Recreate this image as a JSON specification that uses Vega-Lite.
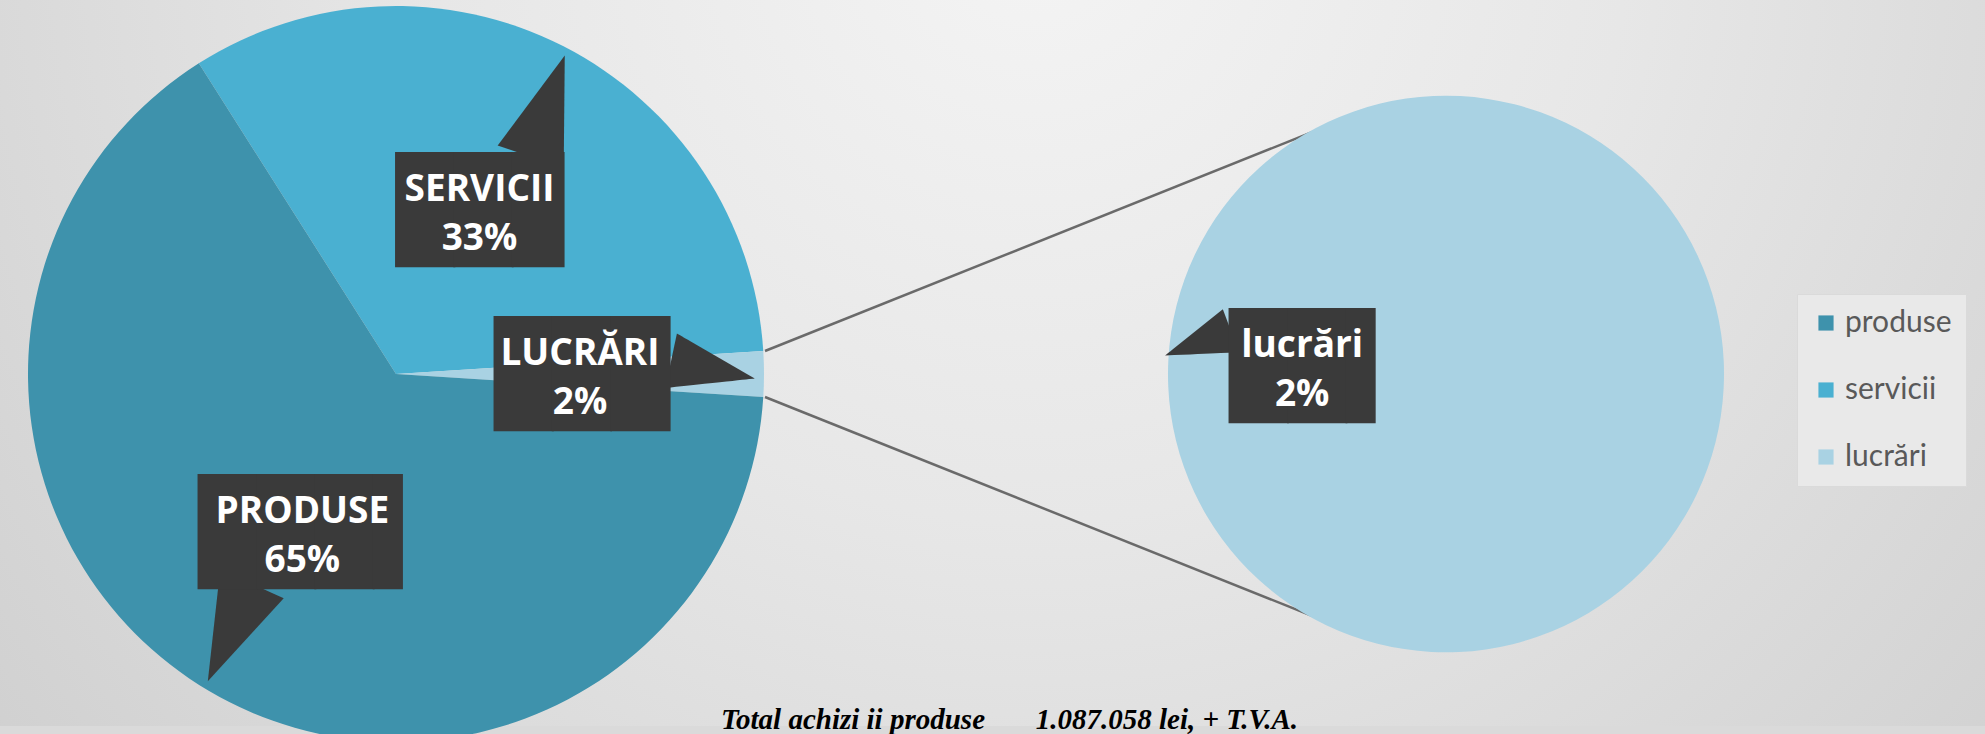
{
  "$schema": "https://vega.github.io/schema/vega-lite/v6.json",
  "width": 1985,
  "height": 734,
  "autosize": {"type": "fit", "contains": "padding"},
  "padding": 0,
  "background": "#dadada",
  "title": {
    "text": "Total achizi ii produse\u00a0\u00a0\u00a0\u00a0\u00a0\u00a0 1.087.058\u00a0lei, + T.V.A.",
    "orient": "bottom",
    "offset": -36,
    "anchor": "middle",
    "dx": 17,
    "font": "Liberation Serif",
    "fontSize": 29,
    "fontStyle": "italic",
    "fontWeight": "bold",
    "color": "#000000"
  },
  "config": {
    "view": {
      "stroke": null,
      "fill": {
        "gradient": "radial",
        "x1": 0.52, "y1": 0.28, "r1": 0,
        "x2": 0.52, "y2": 0.28, "r2": 0.75,
        "stops": [
          {"offset": 0, "color": "#f4f4f4"},
          {"offset": 0.4, "color": "#e7e7e7"},
          {"offset": 1, "color": "#cbcbcb"}
        ]
      }
    },
    "legend": {
      "orient": "none",
      "legendX": 1797,
      "legendY": 294,
      "title": null,
      "symbolType": "square",
      "symbolSize": 230,
      "symbolStrokeWidth": 0,
      "labelFont": "Lato",
      "labelFontSize": 30,
      "labelColor": "#595959",
      "labelOffset": 4,
      "rowPadding": 37,
      "padding": 14,
      "fillColor": "#e9e9e9",
      "strokeColor": "#dadada"
    }
  },
  "datasets": {
    "main": [
      {"pie": "main", "category": "servicii", "share": 33, "ord": 1, "label": "SERVICII", "pct": "33%"},
      {"pie": "main", "category": "lucrări", "share": 2, "ord": 2, "label": "LUCRĂRI", "pct": "2%"},
      {"pie": "main", "category": "produse", "share": 65, "ord": 3, "label": "PRODUSE", "pct": "65%"}
    ],
    "detail": [
      {"pie": "detail", "category": "lucrări", "share": 2, "ord": 1, "label": "lucrări", "pct": "2%"}
    ],
    "links": [
      {"link": "top", "end": "mainEdge", "anchor": "mainTop"},
      {"link": "top", "end": "detailEdge", "anchor": "detailTop"},
      {"link": "bottom", "end": "mainEdge", "anchor": "mainBottom"},
      {"link": "bottom", "end": "detailEdge", "anchor": "detailBottom"}
    ]
  },
  "resolve": {"scale": {"x": "independent", "y": "independent", "theta": "independent"}},
  "layer": [
    {
      "data": {"name": "links"},
      "transform": [{"filter": "datum.link === 'top'"}],
      "mark": {"type": "line", "color": "#6a6a6a", "strokeWidth": 2.5},
      "encoding": {
        "x": {"field": "end", "type": "nominal", "axis": null, "scale": {"type": "point", "domain": ["mainEdge", "detailEdge"], "range": [765, 1330], "padding": 0}},
        "y": {"field": "anchor", "type": "nominal", "axis": null, "scale": {"type": "point", "domain": ["detailTop", "mainTop"], "range": [125, 351], "padding": 0}}
      }
    },
    {
      "data": {"name": "links"},
      "transform": [{"filter": "datum.link === 'bottom'"}],
      "mark": {"type": "line", "color": "#6a6a6a", "strokeWidth": 2.5},
      "encoding": {
        "x": {"field": "end", "type": "nominal", "axis": null, "scale": {"type": "point", "domain": ["mainEdge", "detailEdge"], "range": [765, 1330], "padding": 0}},
        "y": {"field": "anchor", "type": "nominal", "axis": null, "scale": {"type": "point", "domain": ["mainBottom", "detailBottom"], "range": [397, 623], "padding": 0}}
      }
    },
    {
      "data": {"name": "main"},
      "mark": {"type": "arc", "radius": 368},
      "encoding": {
        "x": {"field": "pie", "type": "nominal", "axis": null, "scale": {"type": "point", "domain": ["main", "detail"], "range": [396, 1446], "padding": 0}},
        "y": {"field": "pie", "type": "nominal", "axis": null, "scale": {"type": "point", "domain": ["main", "detail"], "range": [374, 374], "padding": 0}},
        "theta": {"field": "share", "type": "quantitative", "stack": true, "scale": {"domain": [0, 100], "range": [-0.5655, 5.7177]}},
        "order": {"field": "ord"},
        "color": {"field": "category", "type": "nominal", "scale": {"domain": ["produse", "servicii", "lucrări"], "range": ["#3e92ac", "#4ab0d1", "#a9d2e3"]}}
      }
    },
    {
      "data": {"name": "detail"},
      "mark": {"type": "arc", "radius": 278},
      "encoding": {
        "x": {"field": "pie", "type": "nominal", "axis": null, "scale": {"type": "point", "domain": ["main", "detail"], "range": [396, 1446], "padding": 0}},
        "y": {"field": "pie", "type": "nominal", "axis": null, "scale": {"type": "point", "domain": ["main", "detail"], "range": [374, 374], "padding": 0}},
        "theta": {"field": "share", "type": "quantitative", "stack": true, "scale": {"domain": [0, 2], "range": [1.6232, 7.9064]}},
        "order": {"field": "ord"},
        "color": {"field": "category", "type": "nominal", "scale": {"domain": ["produse", "servicii", "lucrări"], "range": ["#3e92ac", "#4ab0d1", "#a9d2e3"]}}
      }
    },
    {
      "data": {"name": "main"},
      "mark": {"type": "text", "radius": 360, "align": "right", "baseline": "middle", "font": "DejaVu Sans", "color": "#3a3a3a", "text": "►"},
      "encoding": {
        "x": {"field": "pie", "type": "nominal", "axis": null, "scale": {"type": "point", "domain": ["main", "detail"], "range": [396, 1446], "padding": 0}},
        "y": {"field": "pie", "type": "nominal", "axis": null, "scale": {"type": "point", "domain": ["main", "detail"], "range": [374, 374], "padding": 0}},
        "theta": {"field": "share", "type": "quantitative", "stack": true, "scale": {"domain": [0, 100], "range": [-0.5655, 5.7177]}},
        "order": {"field": "ord"},
        "angle": {"condition": [{"test": "datum.category === 'servicii'", "value": 288.6}, {"test": "datum.category === 'lucrări'", "value": 12}], "value": 114.4},
        "size": {"condition": {"test": "datum.category === 'lucrări'", "value": 112}, "value": 140}
      }
    },
    {
      "data": {"name": "detail"},
      "mark": {"type": "text", "radius": 280, "align": "right", "baseline": "middle", "font": "DejaVu Sans", "color": "#3a3a3a", "text": "►", "angle": 159.4, "fontSize": 92},
      "encoding": {
        "x": {"field": "pie", "type": "nominal", "axis": null, "scale": {"type": "point", "domain": ["main", "detail"], "range": [396, 1446], "padding": 0}},
        "y": {"field": "pie", "type": "nominal", "axis": null, "scale": {"type": "point", "domain": ["main", "detail"], "range": [374, 374], "padding": 0}},
        "theta": {"field": "share", "type": "quantitative", "stack": true, "scale": {"domain": [0, 2], "range": [1.6232, 7.9064]}},
        "order": {"field": "ord"}
      }
    },
    {
      "data": {"name": "main"},
      "mark": {"type": "text", "radius": 184, "dy": 4, "dx": 4, "align": "center", "baseline": "middle", "font": "DejaVu Sans Mono", "fontSize": 97, "color": "#3a3a3a", "text": "██▉"},
      "encoding": {
        "x": {"field": "pie", "type": "nominal", "axis": null, "scale": {"type": "point", "domain": ["main", "detail"], "range": [396, 1446], "padding": 0}},
        "y": {"field": "pie", "type": "nominal", "axis": null, "scale": {"type": "point", "domain": ["main", "detail"], "range": [374, 374], "padding": 0}},
        "theta": {"field": "share", "type": "quantitative", "stack": true, "scale": {"domain": [0, 100], "range": [-0.5655, 5.7177]}},
        "order": {"field": "ord"},
        "opacity": {"condition": {"test": "datum.category === 'servicii'", "value": 1}, "value": 0}
      }
    },
    {
      "data": {"name": "main"},
      "mark": {"type": "text", "radius": 184, "dy": 4, "dx": 2, "align": "center", "baseline": "middle", "font": "DejaVu Sans Mono", "fontSize": 97, "color": "#3a3a3a", "text": "███"},
      "encoding": {
        "x": {"field": "pie", "type": "nominal", "axis": null, "scale": {"type": "point", "domain": ["main", "detail"], "range": [396, 1446], "padding": 0}},
        "y": {"field": "pie", "type": "nominal", "axis": null, "scale": {"type": "point", "domain": ["main", "detail"], "range": [374, 374], "padding": 0}},
        "theta": {"field": "share", "type": "quantitative", "stack": true, "scale": {"domain": [0, 100], "range": [-0.5655, 5.7177]}},
        "order": {"field": "ord"},
        "opacity": {"condition": {"test": "datum.category === 'lucrări'", "value": 1}, "value": 0}
      }
    },
    {
      "data": {"name": "main"},
      "mark": {"type": "text", "radius": 184, "dy": 4, "dx": 13, "align": "center", "baseline": "middle", "font": "DejaVu Sans Mono", "fontSize": 97, "color": "#3a3a3a", "text": "███▌"},
      "encoding": {
        "x": {"field": "pie", "type": "nominal", "axis": null, "scale": {"type": "point", "domain": ["main", "detail"], "range": [396, 1446], "padding": 0}},
        "y": {"field": "pie", "type": "nominal", "axis": null, "scale": {"type": "point", "domain": ["main", "detail"], "range": [374, 374], "padding": 0}},
        "theta": {"field": "share", "type": "quantitative", "stack": true, "scale": {"domain": [0, 100], "range": [-0.5655, 5.7177]}},
        "order": {"field": "ord"},
        "opacity": {"condition": {"test": "datum.category === 'produse'", "value": 1}, "value": 0}
      }
    },
    {
      "data": {"name": "detail"},
      "mark": {"type": "text", "radius": 144, "dy": 4, "dx": 15, "align": "center", "baseline": "middle", "font": "DejaVu Sans Mono", "fontSize": 97, "color": "#3a3a3a", "text": "██▌"},
      "encoding": {
        "x": {"field": "pie", "type": "nominal", "axis": null, "scale": {"type": "point", "domain": ["main", "detail"], "range": [396, 1446], "padding": 0}},
        "y": {"field": "pie", "type": "nominal", "axis": null, "scale": {"type": "point", "domain": ["main", "detail"], "range": [374, 374], "padding": 0}},
        "theta": {"field": "share", "type": "quantitative", "stack": true, "scale": {"domain": [0, 2], "range": [1.6232, 7.9064]}},
        "order": {"field": "ord"}
      }
    },
    {
      "data": {"name": "main"},
      "mark": {"type": "text", "radius": 184, "dy": -20, "align": "center", "baseline": "middle", "font": "Open Sans", "fontWeight": "bold", "fontSize": 37, "color": "#ffffff"},
      "encoding": {
        "x": {"field": "pie", "type": "nominal", "axis": null, "scale": {"type": "point", "domain": ["main", "detail"], "range": [396, 1446], "padding": 0}},
        "y": {"field": "pie", "type": "nominal", "axis": null, "scale": {"type": "point", "domain": ["main", "detail"], "range": [374, 374], "padding": 0}},
        "theta": {"field": "share", "type": "quantitative", "stack": true, "scale": {"domain": [0, 100], "range": [-0.5655, 5.7177]}},
        "order": {"field": "ord"},
        "text": {"field": "label"}
      }
    },
    {
      "data": {"name": "main"},
      "mark": {"type": "text", "radius": 184, "dy": 29, "align": "center", "baseline": "middle", "font": "Open Sans", "fontWeight": "bold", "fontSize": 37, "color": "#ffffff"},
      "encoding": {
        "x": {"field": "pie", "type": "nominal", "axis": null, "scale": {"type": "point", "domain": ["main", "detail"], "range": [396, 1446], "padding": 0}},
        "y": {"field": "pie", "type": "nominal", "axis": null, "scale": {"type": "point", "domain": ["main", "detail"], "range": [374, 374], "padding": 0}},
        "theta": {"field": "share", "type": "quantitative", "stack": true, "scale": {"domain": [0, 100], "range": [-0.5655, 5.7177]}},
        "order": {"field": "ord"},
        "text": {"field": "pct"}
      }
    },
    {
      "data": {"name": "detail"},
      "mark": {"type": "text", "radius": 144, "dy": -20, "align": "center", "baseline": "middle", "font": "Open Sans", "fontWeight": "bold", "fontSize": 37, "color": "#ffffff"},
      "encoding": {
        "x": {"field": "pie", "type": "nominal", "axis": null, "scale": {"type": "point", "domain": ["main", "detail"], "range": [396, 1446], "padding": 0}},
        "y": {"field": "pie", "type": "nominal", "axis": null, "scale": {"type": "point", "domain": ["main", "detail"], "range": [374, 374], "padding": 0}},
        "theta": {"field": "share", "type": "quantitative", "stack": true, "scale": {"domain": [0, 2], "range": [1.6232, 7.9064]}},
        "order": {"field": "ord"},
        "text": {"field": "label"}
      }
    },
    {
      "data": {"name": "detail"},
      "mark": {"type": "text", "radius": 144, "dy": 29, "align": "center", "baseline": "middle", "font": "Open Sans", "fontWeight": "bold", "fontSize": 37, "color": "#ffffff"},
      "encoding": {
        "x": {"field": "pie", "type": "nominal", "axis": null, "scale": {"type": "point", "domain": ["main", "detail"], "range": [396, 1446], "padding": 0}},
        "y": {"field": "pie", "type": "nominal", "axis": null, "scale": {"type": "point", "domain": ["main", "detail"], "range": [374, 374], "padding": 0}},
        "theta": {"field": "share", "type": "quantitative", "stack": true, "scale": {"domain": [0, 2], "range": [1.6232, 7.9064]}},
        "order": {"field": "ord"},
        "text": {"field": "pct"}
      }
    }
  ]
}
